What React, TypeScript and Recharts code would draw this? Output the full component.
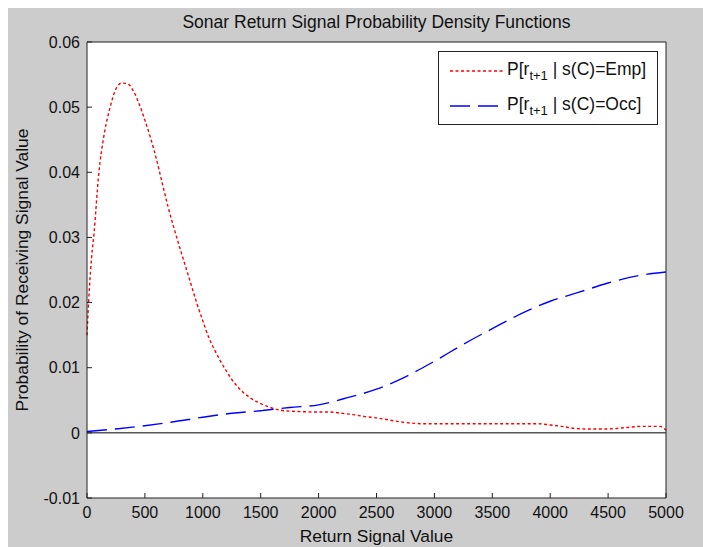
import { CartesianGrid, Line, LineChart, ReferenceLine, XAxis, YAxis } from "recharts";

const empX = [0, 20, 40, 60, 100, 150, 200, 250, 300, 350, 400, 450, 500, 550, 600, 650, 700, 750, 800, 850, 900, 950, 1000, 1050, 1100, 1150, 1200, 1250, 1300, 1350, 1400, 1500, 1600, 1700, 1800, 2000, 2100, 2200, 2300, 2400, 2500, 2600, 2700, 2800, 2900, 3000, 3500, 3900, 4000, 4100, 4200, 4300, 4500, 4650, 4800, 4950, 5000];
const empY = [0.015, 0.022, 0.027, 0.0305, 0.0395, 0.046, 0.05, 0.0528, 0.0537, 0.0536, 0.0525, 0.0505, 0.048, 0.0452, 0.042, 0.0383, 0.0347, 0.0315, 0.0285, 0.0256, 0.0227, 0.0198, 0.0172, 0.0147, 0.0128, 0.0111, 0.0096, 0.0082, 0.0071, 0.0062, 0.0055, 0.0045, 0.0038, 0.0034, 0.0033, 0.0032, 0.0032, 0.003, 0.0028, 0.0025, 0.0023, 0.002, 0.0017, 0.0015, 0.0014, 0.0014, 0.0014, 0.0014, 0.0012, 0.001, 0.0007, 0.0006, 0.0006, 0.0008, 0.001, 0.001, 0.0004];

const occX = [0, 250, 500, 750, 1000, 1250, 1500, 1750, 2000, 2250, 2500, 2750, 3000, 3250, 3500, 3750, 4000, 4250, 4500, 4750, 5000];
const occY = [0.0002, 0.0006, 0.0011, 0.0017, 0.0024, 0.003, 0.0034, 0.0039, 0.0043, 0.0054, 0.0067, 0.0086, 0.011, 0.0136, 0.016, 0.0183, 0.0202, 0.0216, 0.023, 0.0241, 0.0247];

const xTicks = [0, 500, 1000, 1500, 2000, 2500, 3000, 3500, 4000, 4500, 5000];
const yTicks = [-0.01, 0, 0.01, 0.02, 0.03, 0.04, 0.05, 0.06];

const empData = empX.map((x, i) => ({ x, p: empY[i] }));
const occData = occX.map((x, i) => ({ x, p: occY[i] }));

const FONT = '"Liberation Sans", Arial, sans-serif';
const AXIS = "#222";
const RED = "#ff0000";
const BLUE = "#0000ff";

function LegendRow({ color, dash, label }: { color: string; dash: string; label: string }) {
  return (
    <div style={{ display: "flex", alignItems: "center", height: 35 }}>
      <svg width={64} height={10} style={{ flex: "none" }}>
        <line x1={11} y1={5} x2={64} y2={5} stroke={color} strokeWidth={1.4} strokeDasharray={dash} />
      </svg>
      <span style={{ marginLeft: 4, fontSize: 17.5, color: "#111", whiteSpace: "nowrap" }}>
        P[r<sub style={{ fontSize: 13, verticalAlign: -5 }}>t+1</sub> | s(C)={label}]
      </span>
    </div>
  );
}

export default function App() {
  return (
    <div style={{ position: "fixed", left: 8, top: 8, width: 695, height: 539, background: "#cccccc", fontFamily: FONT }}>
      <div style={{ position: "absolute", left: 79, width: 579, top: 4, textAlign: "center", fontSize: 17.5, color: "#111" }}>
        Sonar Return Signal Probability Density Functions
      </div>
      <LineChart width={695} height={539} margin={{ top: 33, right: 36, bottom: 0, left: 0 }}>
        <CartesianGrid horizontal={false} vertical={false} fill="#ffffff" />
        <XAxis
          xAxisId="b"
          dataKey="x"
          type="number"
          domain={[0, 5000]}
          ticks={xTicks}
          interval={0}
          height={49}
          tickSize={-5}
          tickMargin={14}
          stroke={AXIS}
          tick={{ fill: "#111", fontSize: 16, fontFamily: FONT }}
          label={{ value: "Return Signal Value", position: "insideBottom", offset: 5, fill: "#111", fontSize: 17.4, fontFamily: FONT }}
        />
        <XAxis xAxisId="t" orientation="top" type="number" domain={[0, 5000]} ticks={xTicks} interval={0} height={1} tickSize={-5} tick={false} stroke={AXIS} />
        <YAxis
          yAxisId="l"
          type="number"
          domain={[-0.01, 0.06]}
          ticks={yTicks}
          interval={0}
          width={79}
          tickSize={-5}
          tickMargin={12}
          stroke={AXIS}
          tickFormatter={(v: number) => String(v)}
          tick={{ fill: "#111", fontSize: 16, fontFamily: FONT }}
          label={{ value: "Probability of Receiving Signal Value", angle: -90, position: "insideLeft", offset: 14, fill: "#111", fontSize: 17.4, fontFamily: FONT, style: { textAnchor: "middle" } }}
        />
        <YAxis yAxisId="r" orientation="right" type="number" domain={[-0.01, 0.06]} ticks={yTicks} interval={0} width={1} tickSize={-5} tick={false} stroke={AXIS} />
        <ReferenceLine xAxisId="b" yAxisId="l" y={0} stroke="#000" strokeWidth={1} />
        <Line xAxisId="b" yAxisId="l" data={empData} dataKey="p" type="monotone" stroke={RED} strokeWidth={1.4} strokeDasharray="3 2.5" dot={false} isAnimationActive={false} />
        <Line xAxisId="b" yAxisId="l" data={occData} dataKey="p" type="monotone" stroke={BLUE} strokeWidth={1.4} strokeDasharray="20 8" dot={false} isAnimationActive={false} />
      </LineChart>
      <div style={{ position: "absolute", left: 430, top: 43, width: 218, height: 71, background: "#fff", border: "1px solid #222", paddingTop: 1 }}>
        <LegendRow color={RED} dash="3 2.5" label="Emp" />
        <LegendRow color={BLUE} dash="20 8" label="Occ" />
      </div>
    </div>
  );
}
